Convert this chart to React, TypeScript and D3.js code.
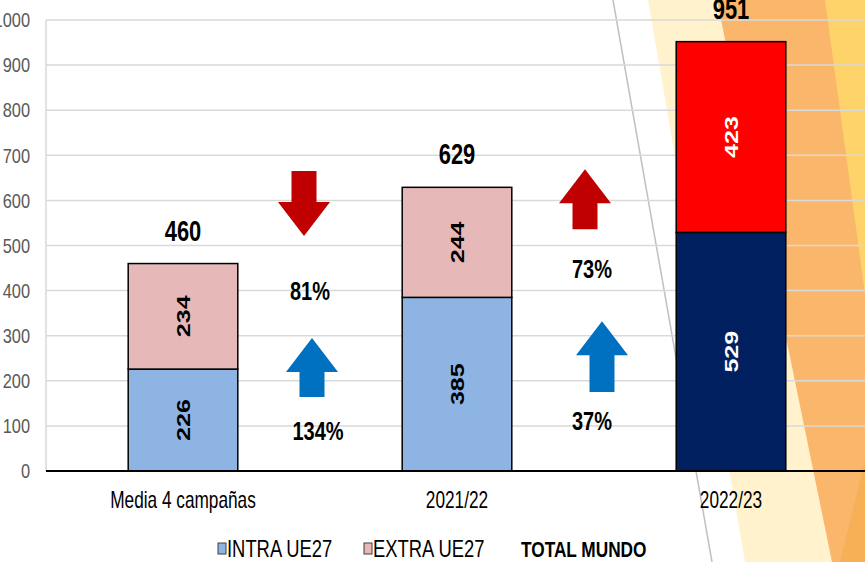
import React from "react";
import * as d3 from "d3";

const categories = ["Media 4 campañas", "2021/22", "2022/23"];
const intraValues = [226, 385, 529];
const extraValues = [234, 244, 423];
const totalValues = [460, 629, 951];
const yTickValues = [0, 100, 200, 300, 400, 500, 600, 700, 800, 900, 1000];
const legendLabels = ["INTRA UE27", "EXTRA UE27", "TOTAL MUNDO"];

// change annotations between consecutive categories
const changeFrom = [0, 0, 1, 1];
const changeLabels = ["81%", "134%", "73%", "37%"];
const changeDirections = ["down", "up", "up", "up"];
const changeSeries = ["extra", "intra", "extra", "intra"];
const arrowTop = [665, 295, 669, 332];
const arrowBottom = [521, 164, 536, 175];
const labelValue = [379, 68, 428, 91];

// styling / layout (kept separate from data)
const W = 865;
const H = 562;
const intraFill = ["#8eb4e3", "#8eb4e3", "#002060"];
const extraFill = ["#e6b9b8", "#e6b9b8", "#ff0000"];
const valueFill = ["#000000", "#000000", "#ffffff"];
const arrowColor: Record<string, string> = { extra: "#c00000", intra: "#0070c0" };
const arrowOffset = [-16, -8, -9, 8];
const labelOffset = [-10, -2, -2, -2];
const FONT = "'Liberation Sans', Arial, Helvetica, sans-serif";

function T(props: {
  x: number;
  y: number;
  sx?: number;
  size: number;
  weight?: string | number;
  fill?: string;
  anchor?: string;
  rotate?: number;
  dy?: string;
  children: React.ReactNode;
}) {
  const { x, y, sx = 0.76, size, weight = "normal", fill = "#000", anchor = "middle", rotate, dy, children } = props;
  return (
    <text
      transform={`translate(${x},${y}) scale(${sx},1)${rotate ? ` rotate(${rotate})` : ""}`}
      fontFamily={FONT}
      fontSize={size}
      fontWeight={weight}
      fill={fill}
      textAnchor={anchor}
      dy={dy}
    >
      {children}
    </text>
  );
}

export default function App() {
  const x = d3
    .scaleBand<string>()
    .domain(categories)
    .range([46, 868])
    .paddingInner(0.6)
    .paddingOuter(0.3);
  const y = d3.scaleLinear().domain([0, 1000]).range([471, 20]);
  const bw = x.bandwidth();
  const cx = (i: number) => (x(categories[i]) as number) + bw / 2;

  const arrowPath = (xc: number, yTop: number, yBot: number, dir: string) => {
    const headHalf = 26;
    const shaftHalf = 12.5;
    const headLen = 34;
    const p = d3.path();
    if (dir === "up") {
      p.moveTo(xc, yTop);
      p.lineTo(xc + headHalf, yTop + headLen);
      p.lineTo(xc + shaftHalf, yTop + headLen);
      p.lineTo(xc + shaftHalf, yBot);
      p.lineTo(xc - shaftHalf, yBot);
      p.lineTo(xc - shaftHalf, yTop + headLen);
      p.lineTo(xc - headHalf, yTop + headLen);
    } else {
      p.moveTo(xc, yBot);
      p.lineTo(xc + headHalf, yBot - headLen);
      p.lineTo(xc + shaftHalf, yBot - headLen);
      p.lineTo(xc + shaftHalf, yTop);
      p.lineTo(xc - shaftHalf, yTop);
      p.lineTo(xc - shaftHalf, yBot - headLen);
      p.lineTo(xc - headHalf, yBot - headLen);
    }
    p.closePath();
    return p.toString();
  };

  return (
    <svg
      width={W}
      height={H}
      style={{ position: "absolute", left: 0, top: 0, background: "#fff" }}
    >
      {/* background decoration */}
      <polygon points="648,0 865,0 865,562 745,562" fill="#fff2cc" />
      <polygon points="717,0 865,0 865,562 832,562" fill="#fab66a" />
      <polygon points="825,0 865,0 865,294" fill="#fdd36a" />
      <polygon points="865,460 865,562 840,562" fill="#f8b056" />
      <line x1={613} y1={0} x2={712} y2={562} stroke="#c0c0c0" strokeWidth={1.5} />

      {/* gridlines */}
      {yTickValues.map((t) => (
        <line key={t} x1={46} x2={W} y1={y(t)} y2={y(t)} stroke="#d9d9d9" strokeWidth={1.5} />
      ))}
      <line x1={46} x2={46} y1={y(1000)} y2={y(0)} stroke="#d9d9d9" strokeWidth={1.5} />

      {/* y tick labels */}
      {yTickValues.map((t) => (
        <T key={t} x={30} y={y(t)} size={20} sx={0.82} fill="#595959" anchor="end" dy="0.36em">
          {t}
        </T>
      ))}

      {/* bars */}
      {categories.map((c, i) => {
        const x0 = x(c) as number;
        return (
          <g key={c}>
            <rect
              x={x0}
              y={y(intraValues[i])}
              width={bw}
              height={y(0) - y(intraValues[i])}
              fill={intraFill[i]}
              stroke="#000"
              strokeWidth={1.5}
            />
            <rect
              x={x0}
              y={y(intraValues[i] + extraValues[i])}
              width={bw}
              height={y(intraValues[i]) - y(intraValues[i] + extraValues[i])}
              fill={extraFill[i]}
              stroke="#000"
              strokeWidth={1.5}
            />
            <T
              x={cx(i)}
              y={y(intraValues[i] / 2)}
              size={25}
              sx={0.75}
              weight="bold"
              fill={valueFill[i]}
              rotate={-90}
              dy="0.36em"
            >
              {intraValues[i]}
            </T>
            <T
              x={cx(i)}
              y={y(intraValues[i] + extraValues[i] / 2)}
              size={25}
              sx={0.75}
              weight="bold"
              fill={valueFill[i]}
              rotate={-90}
              dy="0.36em"
            >
              {extraValues[i]}
            </T>
            <T x={cx(i)} y={y(totalValues[i]) - 23} size={30} sx={0.73} weight="bold">
              {totalValues[i]}
            </T>
            <T x={cx(i)} y={508} size={23} sx={0.75}>
              {c}
            </T>
          </g>
        );
      })}

      {/* x axis line */}
      <line x1={46} x2={W} y1={y(0)} y2={y(0)} stroke="#000" strokeWidth={2} />

      {/* change annotations */}
      {changeLabels.map((lab, k) => {
        const mid = (cx(changeFrom[k]) + cx(changeFrom[k] + 1)) / 2;
        return (
          <g key={k}>
            <path
              d={arrowPath(mid + arrowOffset[k], y(arrowTop[k]), y(arrowBottom[k]), changeDirections[k])}
              fill={arrowColor[changeSeries[k]]}
            />
            <T x={mid + labelOffset[k]} y={y(labelValue[k])} size={25} sx={0.8} weight="bold">
              {lab}
            </T>
          </g>
        );
      })}

      {/* legend */}
      <rect x={218} y={543} width={8} height={11} fill={intraFill[0]} stroke="#404040" strokeWidth={1} />
      <T x={227} y={557} size={23} sx={0.8} anchor="start">
        {legendLabels[0]}
      </T>
      <rect x={364} y={543} width={8} height={11} fill={extraFill[0]} stroke="#404040" strokeWidth={1} />
      <T x={373} y={557} size={23} sx={0.8} anchor="start">
        {legendLabels[1]}
      </T>
      <T x={521} y={557} size={22.4} sx={0.77} anchor="start" weight="bold">
        {legendLabels[2]}
      </T>
    </svg>
  );
}
